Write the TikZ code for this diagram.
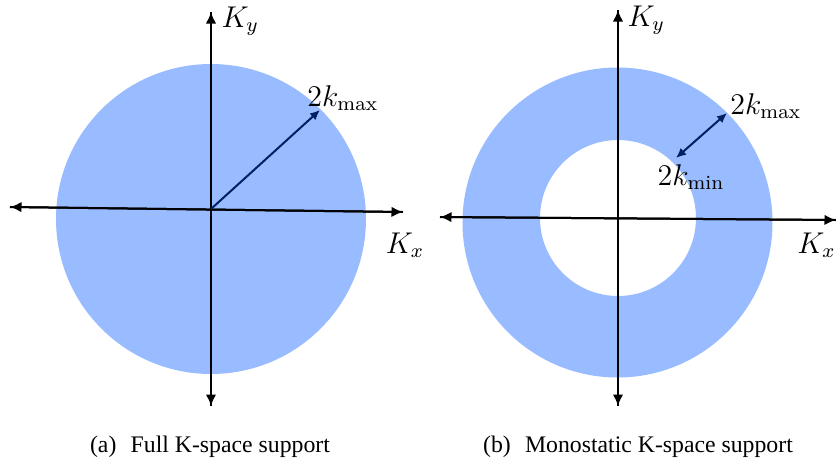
\documentclass[tikz,border=0pt]{standalone}
\usepackage{amsmath,amssymb}
\usepackage{fontspec}
\newfontfamily\capfont{Liberation Serif}
\usepackage{tikz}
\usetikzlibrary{positioning,arrows.meta,calc}
\definecolor{kfill}{RGB}{153,187,255}
\definecolor{knavy}{RGB}{0,32,96}
\tikzset{
  figaxis/.style={-{Latex[length=4.6pt,width=4.2pt]}, line width=0.8pt, black},
  figradius/.style={-{Latex[length=4pt,width=3.6pt]}, line width=0.8pt, knavy},
  figradius2/.style={{Latex[length=4pt,width=3.6pt]}-{Latex[length=4pt,width=3.6pt]}, line width=0.8pt, knavy},
  figlabel/.style={font=\fontsize{11.5}{14}\selectfont, inner sep=0pt},
  figcap/.style={font=\capfont\fontsize{9.5}{11}\selectfont, inner sep=0pt},
}

\begin{document}
\begin{tikzpicture}[x=0.4pt, y=-0.4pt]
  \useasboundingbox (0,0) rectangle (836,462);
  % (a) volle Stuetze
  \fill[kfill] (211,219) circle[radius=155];
  \coordinate (aO) at (211,209);
  \coordinate (aT) at (211,12);
  \coordinate (aB) at (211,406);
  \coordinate (aL) at (10,207);
  \coordinate (aR) at (403,212);
  \coordinate (aK) at (320,110);
  \draw[figaxis] (aB) -- (aT);
  \draw[figaxis] (aT) -- (aB);
  \draw[figaxis] (aR) -- (aL);
  \draw[figaxis] (aL) -- (aR);
  \draw[figradius] (aO) -- (aK);
  \node[figlabel, anchor=west] (aKy) at (221,21) {$K_y$};
  \node[figlabel] (aKx) at (405,245) {$K_x$};
  \node[figlabel] (aKmax) at (343,98) {$2k_{\max}$};
  \node[figcap] (acap) at (210,447) {(a)\hspace{0.6em}Full K-space support};
  % (b) monostatisch
  \fill[kfill, even odd rule] (617.5,222.5) circle[radius=155] (618,218) circle[radius=78];
  \coordinate (bT) at (618,10);
  \coordinate (bB) at (618,406);
  \coordinate (bL) at (440,217);
  \coordinate (bR) at (836,220);
  \coordinate (bKmin) at (676,158);
  \coordinate (bKmax) at (727,113);
  \draw[figaxis] (bB) -- (bT);
  \draw[figaxis] (bT) -- (bB);
  \draw[figaxis] (bR) -- (bL);
  \draw[figaxis] (bL) -- (bR);
  \draw[figradius2] (bKmin) -- (bKmax);
  \node[figlabel, anchor=west] (bKy) at (627,20) {$K_y$};
  \node[figlabel, anchor=west] (bKx) at (797,245) {$K_x$};
  \node[figlabel] (bKmaxl) at (766,106) {$2k_{\max}$};
  \node[figlabel] (bKminl) at (691,177) {$2k_{\min}$};
  \node[figcap] (bcap) at (638,447) {(b)\hspace{0.6em}Monostatic K-space support};
\end{tikzpicture}
\end{document}
